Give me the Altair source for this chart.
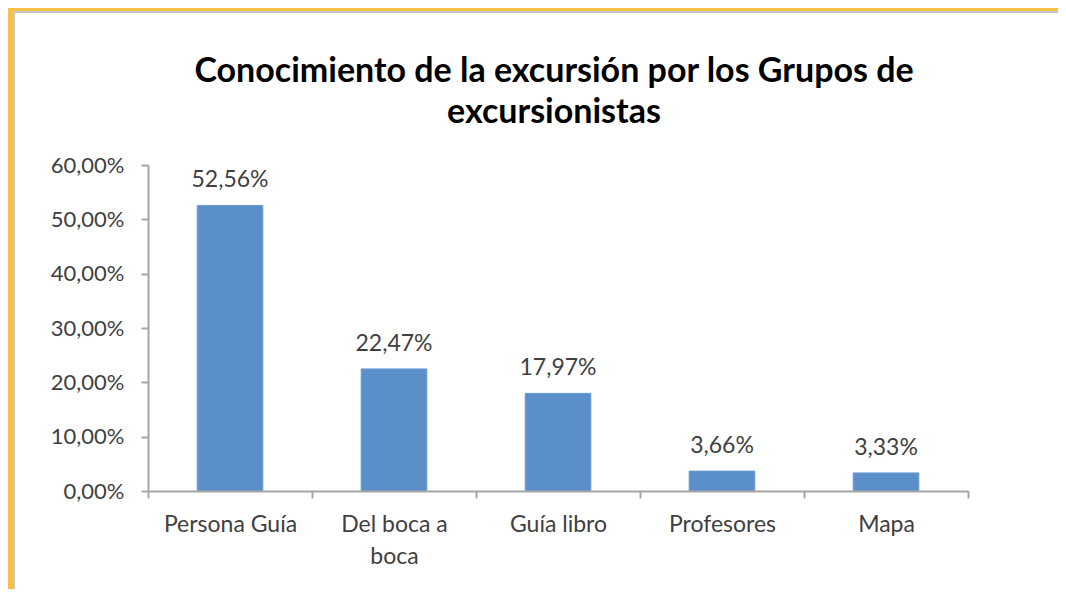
import altair as alt
import pandas as pd

categories = ["Persona Guía", "Del boca a boca", "Guía libro", "Profesores", "Mapa"]
values = [0.5256, 0.2247, 0.1797, 0.0366, 0.0333]
y_ticks = [0.0, 0.1, 0.2, 0.3, 0.4, 0.5, 0.6]
title_lines = ["Conocimiento de la excursión por los Grupos de", "excursionistas"]

df = pd.DataFrame({"cat": categories, "val": values})

FONT = "Lato"
TXT = "#3f3f3f"
AXC = "#a6a6a6"

W, H = 820, 326

one = alt.Data(values=[{}])

frame = alt.Chart(one).mark_rect(
    fill="white", stroke="#c4c4cc", strokeWidth=2
).encode(
    x=alt.value(-134), x2=alt.value(W + 120),
    y=alt.value(-153), y2=alt.value(H + 120),
)

title = alt.Chart(one).mark_text(
    text=title_lines, font=FONT, fontSize=34, fontWeight="bold", color="#000000",
    lineHeight=41, baseline="alphabetic", align="center",
).encode(x=alt.value(406), y=alt.value(-83))

base = alt.Chart(df)

x_enc = alt.X(
    "cat:N", sort=categories, title=None,
    scale=alt.Scale(paddingInner=0, paddingOuter=0),
    axis=alt.Axis(
        labelAngle=0, labelFont=FONT, labelFontSize=23, labelColor=TXT,
        labelPadding=15, labelLineHeight=32, labelBaseline="top",
        labelExpr="datum.label == 'Del boca a boca' ? ['Del boca a', 'boca'] : datum.label",
        domainColor=AXC, domainWidth=2, tickColor=AXC, tickWidth=2, tickSize=7,
        tickBand="extent", grid=False, zindex=1,
    ),
)

bars = base.mark_bar(
    color="#5b8fc9", stroke="#6c9ad0", strokeWidth=1,
    width=alt.RelativeBandSize(0.4),
).encode(
    x=x_enc,
    y=alt.Y(
        "val:Q", title=None,
        scale=alt.Scale(domain=[0, 0.6], nice=False),
        axis=alt.Axis(
            values=y_ticks, labelFont=FONT, labelFontSize=22, labelColor=TXT,
            labelPadding=17,
            labelExpr="replace(format(datum.value, '.2%'), '.', ',')",
            domainColor=AXC, domainWidth=2, tickColor=AXC, tickWidth=2, tickSize=7,
            grid=False, zindex=1,
        ),
    ),
)

labels = base.transform_calculate(
    lbl="replace(format(datum.val, '.2%'), '.', ',')"
).mark_text(
    font=FONT, fontSize=23, color=TXT, baseline="bottom", dy=-13
).encode(
    x=alt.X("cat:N", sort=categories),
    y="val:Q",
    text="lbl:N",
)

chart = alt.layer(frame, title, bars, labels).properties(
    width=W, height=H,
    background="#f8c146",
    padding={"left": 140, "top": 157, "right": 90, "bottom": 98},
    autosize=alt.AutoSizeParams(type="none"),
).configure_view(stroke=None)

chart.save("out.html", embed_options={"renderer": "svg", "actions": False})
